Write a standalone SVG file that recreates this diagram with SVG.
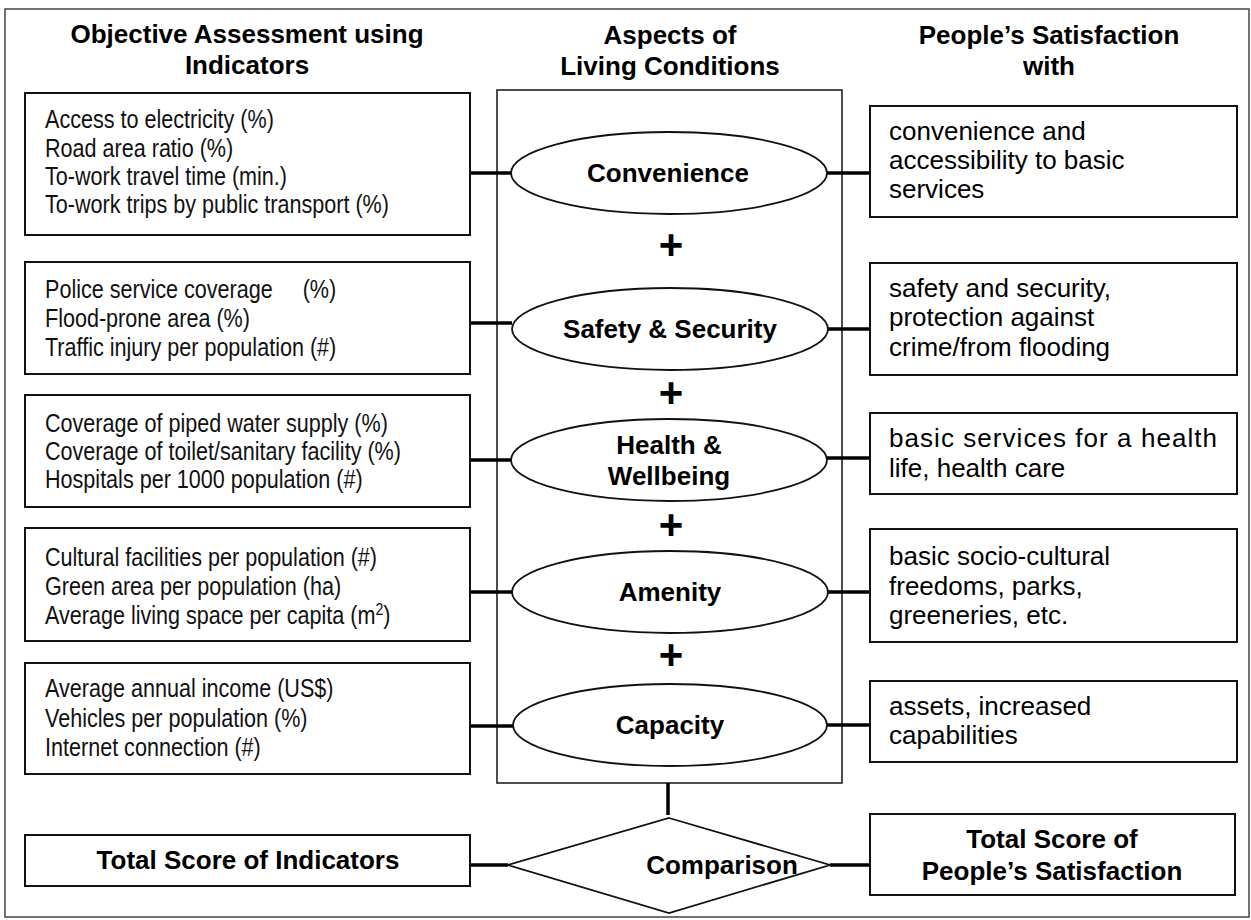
<svg xmlns="http://www.w3.org/2000/svg" width="1251" height="920" viewBox="0 0 1251 920">
  <style>
    .frame { fill: none; stroke: #444; stroke-width: 1.5; }
    .box { fill: #fff; stroke: #111; stroke-width: 2; }
    .col { fill: none; stroke: #222; stroke-width: 1.6; }
    .ell { fill: #fff; stroke: #111; stroke-width: 1.8; }
    .link { stroke: #000; stroke-width: 3.5; fill: none; }
    .hdr { font-family: "Liberation Sans", Arial, sans-serif; font-size: 26px; font-weight: bold; fill: #000; text-anchor: middle; }
    .ind { font-family: "Liberation Sans", Arial, sans-serif; font-size: 26px; fill: #111; }
    .sat { font-family: "Liberation Sans", Arial, sans-serif; font-size: 26px; fill: #000; }
    .plus { font-family: "Liberation Sans", Arial, sans-serif; font-size: 42px; font-weight: bold; fill: #000; text-anchor: middle; }
  </style>

  <rect class="frame" x="5" y="9" width="1244" height="908"/>

  <!-- column headings -->
  <g id="headings">
    <text class="hdr" x="247" y="43">Objective Assessment using</text>
    <text class="hdr" x="247" y="74">Indicators</text>
    <text class="hdr" x="670" y="44">Aspects of</text>
    <text class="hdr" x="670" y="75">Living Conditions</text>
    <text class="hdr" x="1049" y="44">People’s Satisfaction</text>
    <text class="hdr" x="1049" y="75">with</text>
  </g>

  <!-- aspects column frame -->
  <rect id="aspects-frame" class="col" x="497" y="90" width="345" height="693"/>

  <!-- connectors -->
  <g id="connectors">
    <line class="link" x1="470" y1="173" x2="511" y2="173"/>
    <line class="link" x1="827" y1="173" x2="870" y2="173"/>
    <line class="link" x1="470" y1="323" x2="512" y2="323"/>
    <line class="link" x1="828" y1="329" x2="870" y2="329"/>
    <line class="link" x1="470" y1="460" x2="511" y2="460"/>
    <line class="link" x1="827" y1="458" x2="870" y2="458"/>
    <line class="link" x1="470" y1="592" x2="512" y2="592"/>
    <line class="link" x1="827" y1="592" x2="870" y2="592"/>
    <line class="link" x1="470" y1="726" x2="513" y2="726"/>
    <line class="link" x1="827" y1="725" x2="870" y2="725"/>
    <line class="link" x1="668" y1="783" x2="668" y2="815"/>
    <line class="link" x1="470" y1="865" x2="508" y2="865"/>
    <line class="link" x1="830" y1="865" x2="870" y2="865"/>
  </g>

  <!-- indicator boxes -->
  <g id="ind-convenience">
    <rect class="box" x="25" y="93" width="445" height="142"/>
    <text class="ind" transform="translate(45,0) scale(0.83,1)">
      <tspan x="0" y="128">Access to electricity (%)</tspan>
      <tspan x="0" y="157">Road area ratio (%)</tspan>
      <tspan x="0" y="185">To-work travel time (min.)</tspan>
      <tspan x="0" y="213">To-work trips by public transport (%)</tspan>
    </text>
  </g>
  <g id="ind-safety">
    <rect class="box" x="25" y="262" width="445" height="112"/>
    <text class="ind" transform="translate(45,0) scale(0.83,1)">
      <tspan x="0" y="298">Police service coverage&#160;&#160;&#160;&#160; (%)</tspan>
      <tspan x="0" y="327">Flood-prone area (%)</tspan>
      <tspan x="0" y="356">Traffic injury per population (#)</tspan>
    </text>
  </g>
  <g id="ind-health">
    <rect class="box" x="25" y="395" width="445" height="112"/>
    <text class="ind" transform="translate(45,0) scale(0.83,1)">
      <tspan x="0" y="432">Coverage of piped water supply (%)</tspan>
      <tspan x="0" y="460">Coverage of toilet/sanitary facility (%)</tspan>
      <tspan x="0" y="488">Hospitals per 1000 population (#)</tspan>
    </text>
  </g>
  <g id="ind-amenity">
    <rect class="box" x="25" y="528" width="445" height="113"/>
    <text class="ind" transform="translate(45,0) scale(0.83,1)">
      <tspan x="0" y="566">Cultural facilities per population (#)</tspan>
      <tspan x="0" y="595">Green area per population (ha)</tspan>
      <tspan x="0" y="624">Average living space per capita (m<tspan font-size="17" dy="-9">2</tspan><tspan dy="9">)</tspan></tspan>
    </text>
  </g>
  <g id="ind-capacity">
    <rect class="box" x="25" y="663" width="445" height="111"/>
    <text class="ind" transform="translate(45,0) scale(0.83,1)">
      <tspan x="0" y="697">Average annual income (US$)</tspan>
      <tspan x="0" y="727">Vehicles per population (%)</tspan>
      <tspan x="0" y="756">Internet connection (#)</tspan>
    </text>
  </g>
  <g id="ind-total">
    <rect class="box" x="25" y="835" width="445" height="51"/>
    <text class="hdr" x="248" y="869">Total Score of Indicators</text>
  </g>

  <!-- aspects -->
  <g id="asp-convenience">
    <ellipse class="ell" cx="669" cy="173" rx="158" ry="41"/>
    <text class="hdr" x="668" y="182">Convenience</text>
  </g>
  <text class="plus" x="671" y="259">+</text>
  <g id="asp-safety">
    <ellipse class="ell" cx="670" cy="329" rx="158" ry="41"/>
    <text class="hdr" x="670" y="338">Safety &amp; Security</text>
  </g>
  <text class="plus" x="671" y="407">+</text>
  <g id="asp-health">
    <ellipse class="ell" cx="669" cy="460" rx="158" ry="41"/>
    <text class="hdr" x="669" y="454">Health &amp;</text>
    <text class="hdr" x="669" y="485">Wellbeing</text>
  </g>
  <text class="plus" x="671" y="539">+</text>
  <g id="asp-amenity">
    <ellipse class="ell" cx="670" cy="592" rx="158" ry="41"/>
    <text class="hdr" x="670" y="601">Amenity</text>
  </g>
  <text class="plus" x="671" y="669">+</text>
  <g id="asp-capacity">
    <ellipse class="ell" cx="670" cy="725" rx="157" ry="41"/>
    <text class="hdr" x="670" y="734">Capacity</text>
  </g>

  <!-- comparison -->
  <g id="comparison">
    <polygon class="ell" points="669,818 830,865 669,913 508,865"/>
    <text class="hdr" x="722" y="874">Comparison</text>
  </g>

  <!-- satisfaction boxes -->
  <g id="sat-convenience">
    <rect class="box" x="870" y="106" width="367" height="111"/>
    <text class="sat">
      <tspan x="889" y="140">convenience and</tspan>
      <tspan x="889" y="169">accessibility to basic</tspan>
      <tspan x="889" y="198">services</tspan>
    </text>
  </g>
  <g id="sat-safety">
    <rect class="box" x="870" y="263" width="367" height="112"/>
    <text class="sat">
      <tspan x="889" y="297">safety and security,</tspan>
      <tspan x="889" y="326">protection against</tspan>
      <tspan x="889" y="356">crime/from flooding</tspan>
    </text>
  </g>
  <g id="sat-health">
    <rect class="box" x="870" y="413" width="367" height="81"/>
    <text class="sat">
      <tspan x="889" y="447" textLength="328" lengthAdjust="spacing">basic services for a health</tspan>
      <tspan x="889" y="477">life, health care</tspan>
    </text>
  </g>
  <g id="sat-amenity">
    <rect class="box" x="870" y="529" width="367" height="113"/>
    <text class="sat">
      <tspan x="889" y="565">basic socio-cultural</tspan>
      <tspan x="889" y="595">freedoms, parks,</tspan>
      <tspan x="889" y="624">greeneries, etc.</tspan>
    </text>
  </g>
  <g id="sat-capacity">
    <rect class="box" x="870" y="681" width="367" height="81"/>
    <text class="sat">
      <tspan x="889" y="715">assets, increased</tspan>
      <tspan x="889" y="744">capabilities</tspan>
    </text>
  </g>
  <g id="sat-total">
    <rect class="box" x="870" y="814" width="365" height="81"/>
    <text class="hdr" x="1052" y="848">Total Score of</text>
    <text class="hdr" x="1052" y="880">People’s Satisfaction</text>
  </g>
</svg>
